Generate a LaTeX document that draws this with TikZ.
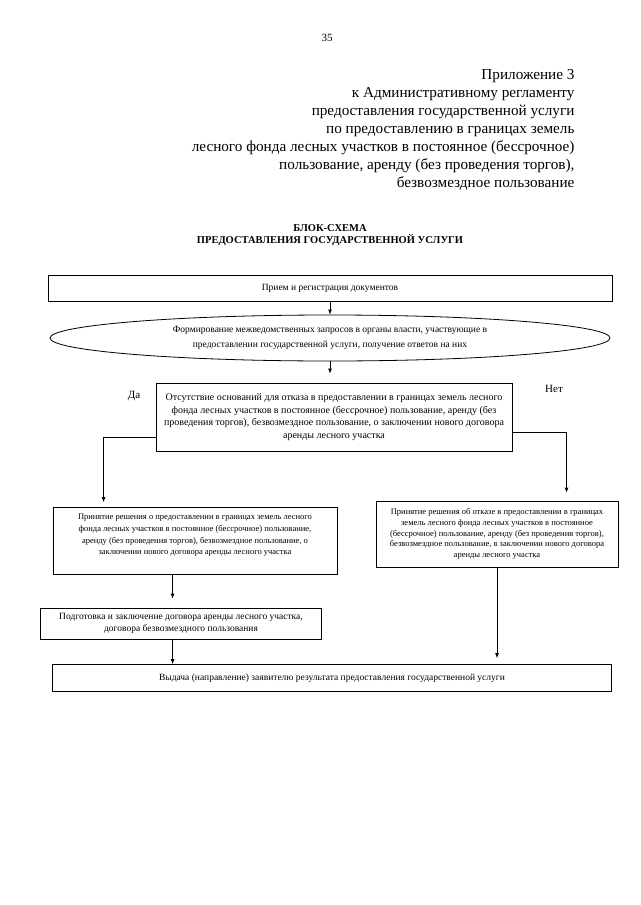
\documentclass[tikz,border=0pt]{standalone}
\usepackage{fontspec}
\setmainfont{Liberation Serif}
\usetikzlibrary{arrows.meta,shapes.geometric,calc}
\tikzset{
  blk/.style={draw, line width=0.8pt, rectangle, inner sep=2pt, align=center},
  conn/.style={line width=0.8pt, -{Latex[length=5pt,width=4pt]}},
  plain/.style={line width=0.8pt}
}
\begin{document}
\begin{tikzpicture}[x=1pt,y=-1pt]
\useasboundingbox (0,0) rectangle (640,905);
\fill[white] (0,0) rectangle (640,905);

\node[font=\fontsize{11}{13}\selectfont] (pnum) at (327,38) {35};

\node[anchor=north east, align=right, font=\fontsize{15.2}{18}\selectfont] (hdr) at (578,66)
{Приложение 3\\к Административному регламенту\\предоставления государственной услуги\\по предоставлению в границах земель\\лесного фонда лесных участков в постоянное (бессрочное)\\пользование, аренду (без проведения торгов),\\безвозмездное пользование};

\node[align=center, font=\fontsize{10.5}{12}\selectfont\bfseries] (ttl) at (330,235)
{БЛОК-СХЕМА\\ПРЕДОСТАВЛЕНИЯ ГОСУДАРСТВЕННОЙ УСЛУГИ};

\node[blk, minimum width=564pt, minimum height=26pt, font=\fontsize{9.5}{11}\selectfont] (b1) at (330,288)
{Прием и регистрация документов};

\node[draw, line width=0.8pt, ellipse, minimum width=560pt, minimum height=46pt, inner sep=0pt, align=center, font=\fontsize{9.5}{15}\selectfont] (ell) at (330,338)
{Формирование межведомственных запросов в органы власти, участвующие в\\предоставлении государственной услуги, получение ответов на них};

\node[blk, minimum width=356pt, minimum height=68pt, font=\fontsize{10}{12.5}\selectfont] (dec) at (334,417)
{Отсутствие оснований для отказа в предоставлении в границах земель лесного\\фонда лесных участков в постоянное (бессрочное) пользование, аренду (без\\проведения торгов), безвозмездное пользование, о заключении нового договора\\аренды лесного участка};

\node[font=\fontsize{11}{13}\selectfont] (da) at (134,396) {Да};
\node[font=\fontsize{11}{13}\selectfont] (net) at (554,389) {Нет};

\node[blk, minimum width=284pt, minimum height=67pt, font=\fontsize{8.5}{11.7}\selectfont] (lb) at (195,541)
{Принятие решения о предоставлении в границах земель лесного\\фонда лесных участков в постоянное (бессрочное) пользование,\\аренду (без проведения торгов), безвозмездное пользование, о\\заключении нового договора аренды лесного участка\\[1pt]};

\node[blk, minimum width=242pt, minimum height=66pt, font=\fontsize{8.5}{10.6}\selectfont] (rb) at (497,534)
{Принятие решения об отказе в предоставлении в границах\\земель лесного фонда лесных участков в постоянное\\(бессрочное) пользование, аренду (без проведения торгов),\\безвозмездное пользование, в заключении нового договора\\аренды лесного участка};

\node[blk, minimum width=281pt, minimum height=31pt, font=\fontsize{9.5}{12.5}\selectfont] (prep) at (181,623.5)
{Подготовка и заключение договора аренды лесного участка,\\договора безвозмездного пользования};

\node[blk, minimum width=559pt, minimum height=27pt, font=\fontsize{9.5}{11}\selectfont] (fin) at (332,678)
{Выдача (направление) заявителю результата предоставления государственной услуги};

\draw[conn] (b1.south) -- (b1.south |- ell.north);
\draw[conn, shorten >=9pt] (ell.south) -- (ell.south |- dec.north);
\coordinate (lx) at ($(lb.north west)+(51,0)$);
\coordinate (rx) at ($(rb.north west)+(191,0)$);
\draw[conn, shorten >=5pt] ([yshift=-20pt]dec.west) -| (lx);
\draw[conn, shorten >=8pt] ([yshift=-15pt]dec.east) -| (rx);
\coordinate (mx) at ($(lb.south west)+(120,0)$);
\draw[conn, shorten >=9pt] (mx) -- (mx |- prep.north);
\draw[conn] (mx |- prep.south) -- (mx |- fin.north);
\draw[conn, shorten >=6pt] (rb.south) -- (rb.south |- fin.north);
\end{tikzpicture}
\end{document}
